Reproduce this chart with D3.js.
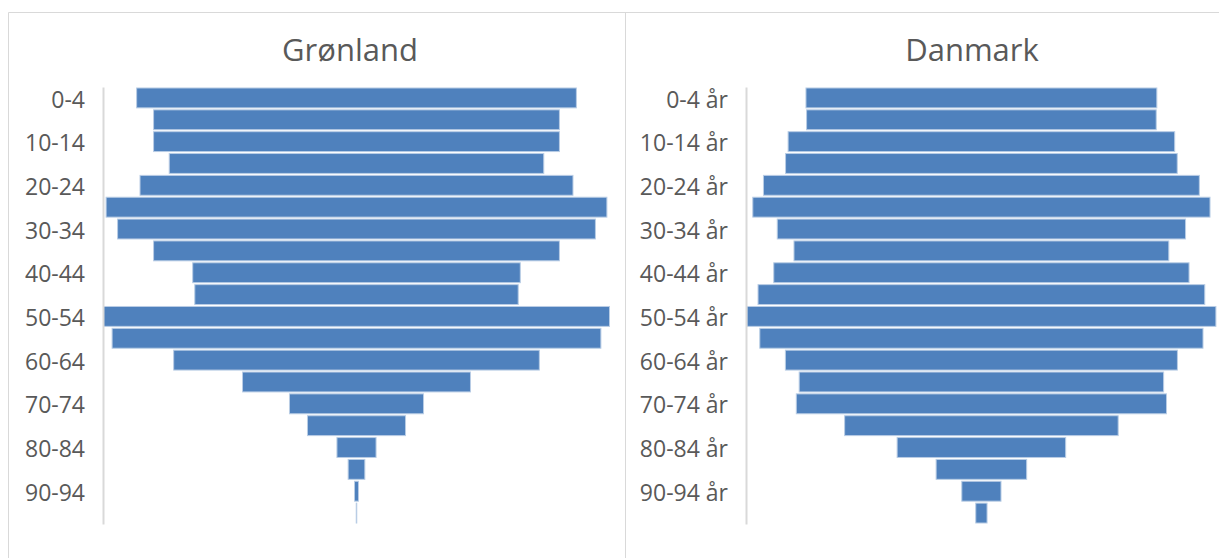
<!DOCTYPE html>
<html>
<head>
<meta charset="utf-8">
<script src="https://cdn.jsdelivr.net/npm/d3@7"></script>
<style>
  body { margin: 0; background: #fff; }
  svg { display: block; font-family: "Open Sans", "Noto Sans", sans-serif; }
</style>
</head>
<body>
<svg id="chart" width="1219" height="558"></svg>
<script>
// age groups, 5-year bands
var ageGroups = ["0-4", "5-9", "10-14", "15-19", "20-24", "25-29", "30-34", "35-39",
    "40-44", "45-49", "50-54", "55-59", "60-64", "65-69", "70-74", "75-79",
    "80-84", "85-89", "90-94", "95-99"];

// persons per age group
var greenland = [4215, 3890, 3890, 3590, 4150, 4800, 4580, 3890, 3140, 3100,
    4850, 4685, 3505, 2185, 1285, 940, 375, 160, 38, 5];
var denmark = [310400, 309300, 342000, 346500, 385600, 404500, 361200, 331600, 367400, 395200,
    414900, 392100, 346800, 322400, 327500, 242000, 149100, 80100, 34700, 10000];

var glLabels = ageGroups;
var dkLabels = ageGroups.map(function (d) { return d + " år"; });

var svg = d3.select("#chart");

// panel frames
svg.append("line")
    .attr("x1", 8.5).attr("x2", 1219).attr("y1", 12.5).attr("y2", 12.5)
    .attr("stroke", "#d9d9d9");
svg.append("line")
    .attr("x1", 8.5).attr("x2", 8.5).attr("y1", 12.5).attr("y2", 558)
    .attr("stroke", "#d9d9d9");
svg.append("line")
    .attr("x1", 625.5).attr("x2", 625.5).attr("y1", 12.5).attr("y2", 558)
    .attr("stroke", "#d9d9d9");

function funnel(opts) {
    var g = svg.append("g");

    g.append("text")
        .attr("x", opts.titleX).attr("y", 61)
        .attr("text-anchor", "middle")
        .attr("font-size", 31)
        .attr("fill", "#595959")
        .text(opts.title);

    var y = d3.scaleBand()
        .domain(opts.labels)
        .range([87, 524])
        .paddingInner(0.09)
        .paddingOuter(0.045);

    var w = d3.scaleLinear()
        .domain([0, d3.max(opts.values)])
        .range([0, opts.maxWidth]);

    g.selectAll("rect.bar")
        .data(opts.values)
        .enter()
        .append("rect")
        .attr("class", "bar")
        .attr("x", function (d) { return opts.center - w(d) / 2; })
        .attr("y", function (d, i) { return y(opts.labels[i]); })
        .attr("width", function (d) { return w(d); })
        .attr("height", y.bandwidth())
        .attr("fill", "#4f81bd")
        .attr("stroke", "#b9cde5")
        .attr("stroke-width", 1);

    var axis = d3.axisLeft(y)
        .tickSize(0)
        .tickSizeOuter(0)
        .tickPadding(18)
        .tickFormat(function (d, i) { return i % 2 === 0 ? d : ""; });

    var ax = g.append("g")
        .attr("transform", "translate(" + opts.axisX + ",0)")
        .call(axis);

    ax.select(".domain")
        .attr("stroke", "#d9d9d9")
        .attr("stroke-width", 2);
    ax.selectAll("text")
        .attr("dy", "0.42em")
        .attr("font-family", "'Open Sans', 'Noto Sans', sans-serif")
        .attr("font-size", 23)
        .attr("fill", "#595959");
}

funnel({
    title: "Grønland", titleX: 350,
    labels: glLabels, values: greenland,
    axisX: 103, center: 356.5, maxWidth: 506
});

funnel({
    title: "Danmark", titleX: 972,
    labels: dkLabels, values: denmark,
    axisX: 746, center: 981.4, maxWidth: 469
});
</script>
</body>
</html>
